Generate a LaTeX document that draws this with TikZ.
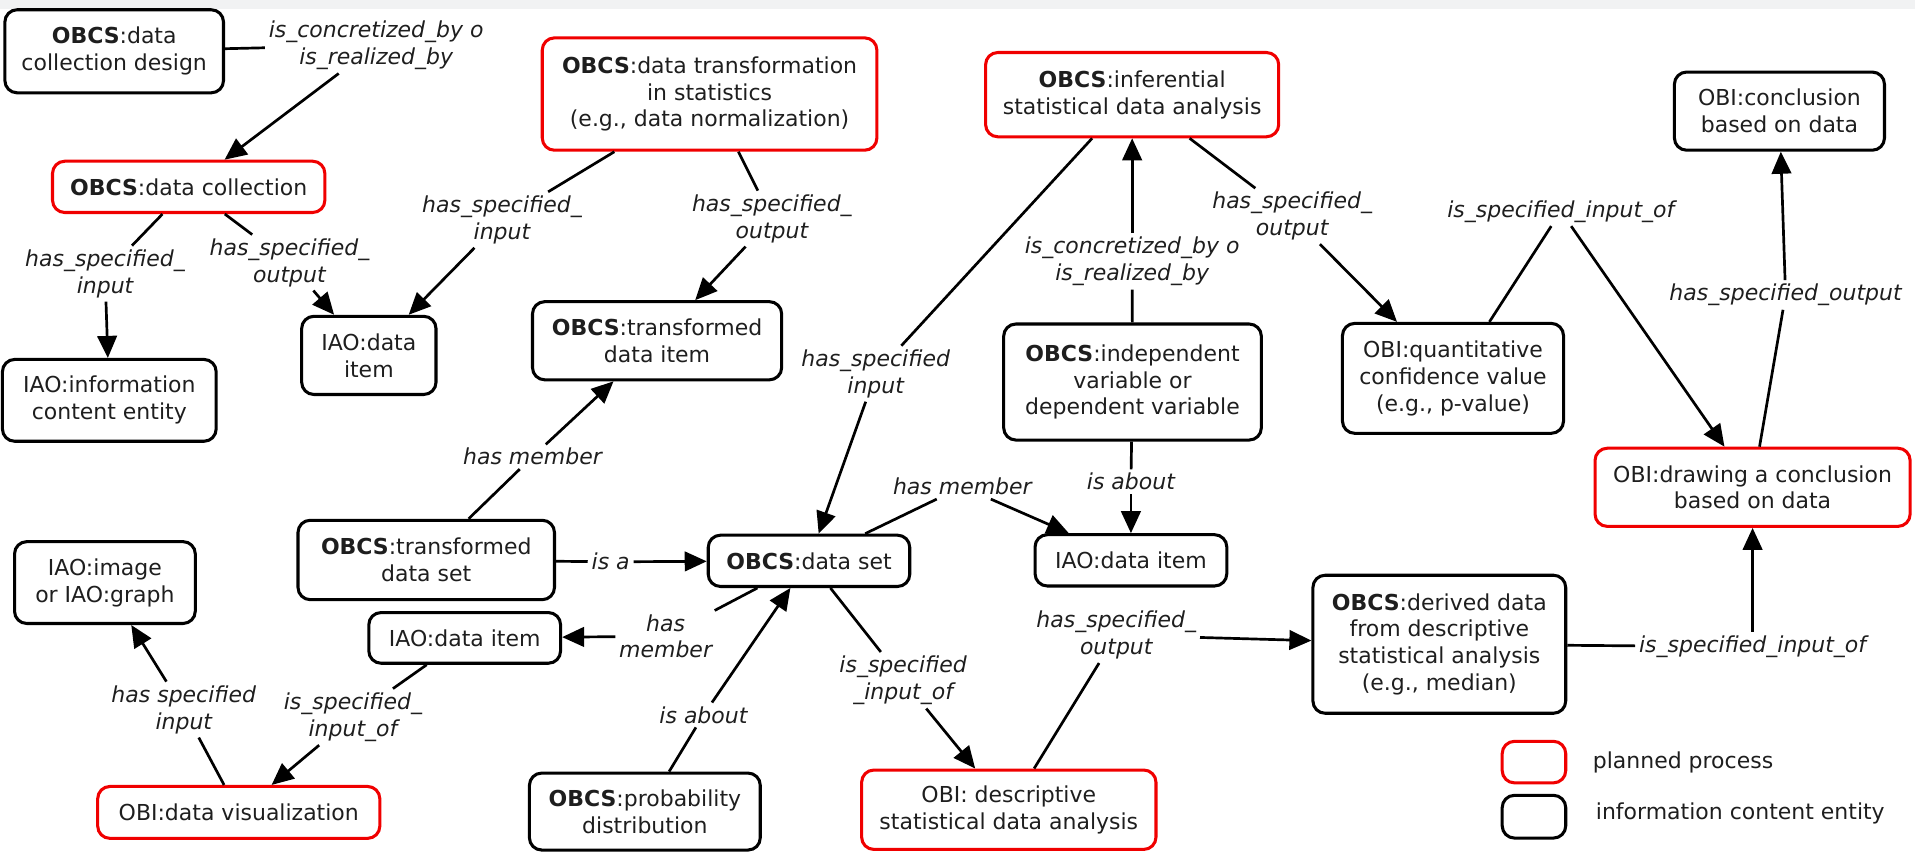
\documentclass[tikz,border=0pt]{standalone}
\usepackage{fontspec}
\setmainfont{DejaVu Sans}
\usetikzlibrary{arrows.meta,calc}
\definecolor{bandgray}{RGB}{241,242,243}
\definecolor{procred}{RGB}{240,0,0}
\definecolor{ink}{RGB}{30,30,30}

\begin{document}
\begin{tikzpicture}[x=1pt,y=-1pt,
  every node/.style={font=\fontsize{18}{22}\selectfont, text=ink},
  concept/.style={draw=black, line width=2.5pt, rounded corners=10pt, align=center, inner sep=0pt},
  proc/.style={concept, draw=procred},
  rel/.style={font=\fontsize{18}{22}\selectfont\itshape, align=center, inner sep=3pt},
  link/.style={line width=2.2pt, draw=black},
  arr/.style={link, -{Triangle[length=18pt,width=16pt]}},
]
\useasboundingbox (0,0) rectangle (1568,698);
\fill[bandgray] (0,0) rectangle (1568,7.4);

% concepts
\node[concept, minimum width=179pt, minimum height=68pt] (N1) at (93.5,42) {\textbf{OBCS}:data\\collection design};
\node[proc, minimum width=223pt, minimum height=42pt] (N2) at (154.5,153) {\textbf{OBCS}:data collection};
\node[concept, minimum width=175pt, minimum height=67pt] (N3) at (89.5,327.8) {IAO:information\\content entity};
\node[concept, minimum width=110pt, minimum height=64pt] (N4) at (302,291) {IAO:data\\item};
\node[proc, minimum width=274pt, minimum height=92pt] (N5) at (581,77) {\textbf{OBCS}:data transformation\\in statistics\\(e.g., data normalization)};
\node[concept, minimum width=204pt, minimum height=64pt] (N6) at (538,279) {\textbf{OBCS}:transformed\\data item};
\node[proc, minimum width=240pt, minimum height=69pt] (N7) at (927,77.5) {\textbf{OBCS}:inferential\\statistical data analysis};
\node[concept, minimum width=172pt, minimum height=64pt] (N8) at (1457,91) {OBI:conclusion\\based on data};
\node[concept, minimum width=211pt, minimum height=95pt] (N9) at (927.3,312.8) {\textbf{OBCS}:independent\\variable or\\dependent variable};
\node[concept, minimum width=181pt, minimum height=90pt] (N10) at (1189.7,309.8) {OBI:quantitative\\confidence value\\(e.g., p-value)};
\node[proc, minimum width=258pt, minimum height=64pt] (N11) at (1435,399) {OBI:drawing a conclusion\\based on data};
\node[concept, minimum width=210pt, minimum height=65pt] (N12) at (349,458.5) {\textbf{OBCS}:transformed\\data set};
\node[concept, minimum width=165pt, minimum height=42pt] (N13) at (662.4,459.2) {\textbf{OBCS}:data set};
\node[concept, minimum width=157pt, minimum height=42pt] (N14) at (926,458.8) {IAO:data item};
\node[concept, minimum width=148pt, minimum height=67pt] (N15) at (85.9,477) {IAO:image\\or IAO:graph};
\node[concept, minimum width=157pt, minimum height=41.5pt] (N16) at (380.5,522.3) {IAO:data item};
\node[concept, minimum width=207pt, minimum height=113pt] (N17) at (1178.5,527.5) {\textbf{OBCS}:derived data\\from descriptive\\statistical analysis\\(e.g., median)};
\node[proc, minimum width=231pt, minimum height=42.5pt] (N18) at (195.5,665.2) {OBI:data visualization};
\node[concept, minimum width=189pt, minimum height=63pt] (N19) at (528,664.5) {\textbf{OBCS}:probability\\distribution};
\node[proc, minimum width=241pt, minimum height=65pt] (N20) at (826,663) {OBI: descriptive\\statistical data analysis};

% linking phrases
\node[rel] (L1) at (308,37) {is\_concretized\_by o\\is\_realized\_by};
\node[rel] (L2) at (86,224) {has\_specified\_\\input};
\node[rel] (L3) at (237,215) {has\_specified\_\\output};
\node[rel] (L4) at (411,180) {has\_specified\_\\input};
\node[rel] (L5) at (632,179) {has\_specified\_\\output};
\node[rel] (L6) at (717,306) {has\_specified\\input};
\node[rel] (L7) at (927,214) {is\_concretized\_by o\\is\_realized\_by};
\node[rel] (L8) at (1058,177) {has\_specified\_\\output};
\node[rel] (L9) at (1278,173) {is\_specified\_input\_of};
\node[rel] (L10) at (1462,241.5) {has\_specified\_output};
\node[rel] (L11) at (926,394.4) {is about};
\node[rel] (L12) at (788,398.5) {has member};
\node[rel] (L13) at (436,374) {has member};
\node[rel] (L14) at (500,460) {is a};
\node[rel] (L15) at (545,521) {has\\member};
\node[rel] (L16) at (576,585.4) {is about};
\node[rel] (L17) at (739.5,557) {is\_specified\\\_input\_of};
\node[rel] (L18) at (914,520) {has\_specified\_\\output};
\node[rel] (L19) at (1435,529.6) {is\_specified\_input\_of};
\node[rel] (L20) at (289,587) {is\_specified\_\\input\_of};
\node[rel] (L21) at (150.5,581) {has specified\\input};

% connections: concept -- phrase -> concept
\draw[link] (N1) -- (L1);   \draw[arr] (L1) -- (N2);
\draw[link] (N2) -- (L2);   \draw[arr] (L2) -- (N3);
\draw[link] (N2) -- (L3);   \draw[arr] (L3) -- (N4);
\draw[link] (N5) -- (L4);   \draw[arr] (L4) -- (N4);
\draw[link] (N5) -- (L5);   \draw[arr] (L5) -- (N6);
\draw[link] (N7) -- (L6);   \draw[arr] (L6) -- (N13);
\draw[link] (N9) -- (L7);   \draw[arr] (L7) -- (N7);
\draw[link] (N7) -- (L8);   \draw[arr] (L8) -- (N10);
\draw[link] (N10) -- (L9);  \draw[arr] (L9) -- (N11);
\draw[link] (N11) -- (L10); \draw[arr] (L10) -- (N8);
\draw[link] (N9) -- (L11);  \draw[arr] (L11) -- (N14);
\draw[link] (N13) -- (L12); \draw[arr] (L12) -- (N14);
\draw[link] (N12) -- (L13); \draw[arr] (L13) -- (N6);
\draw[link] (N12) -- (L14); \draw[arr] (L14) -- (N13);
\draw[link] (N13) -- (L15); \draw[arr] (L15) -- (N16);
\draw[link] (N19) -- (L16); \draw[arr] (L16) -- (N13);
\draw[link] (N13) -- (L17); \draw[arr] (L17) -- (N20);
\draw[link] (N20) -- (L18); \draw[arr] (L18) -- (N17);
\draw[link] (N17) -- (L19); \draw[arr] (L19) -- (N11);
\draw[link] (N16) -- (L20); \draw[arr] (L20) -- (N18);
\draw[link] (N18) -- (L21); \draw[arr] (L21) -- (N15);

% legend
\node[proc, minimum width=52pt, minimum height=34pt] (KP) at (1256,624) {};
\node[anchor=west, inner sep=0pt] (KPt) at (1304,624) {planned process};
\node[concept, minimum width=52pt, minimum height=35pt] (KI) at (1256,668.7) {};
\node[anchor=west, inner sep=0pt] (KIt) at (1306.5,666) {information content entity};
\end{tikzpicture}
\end{document}
